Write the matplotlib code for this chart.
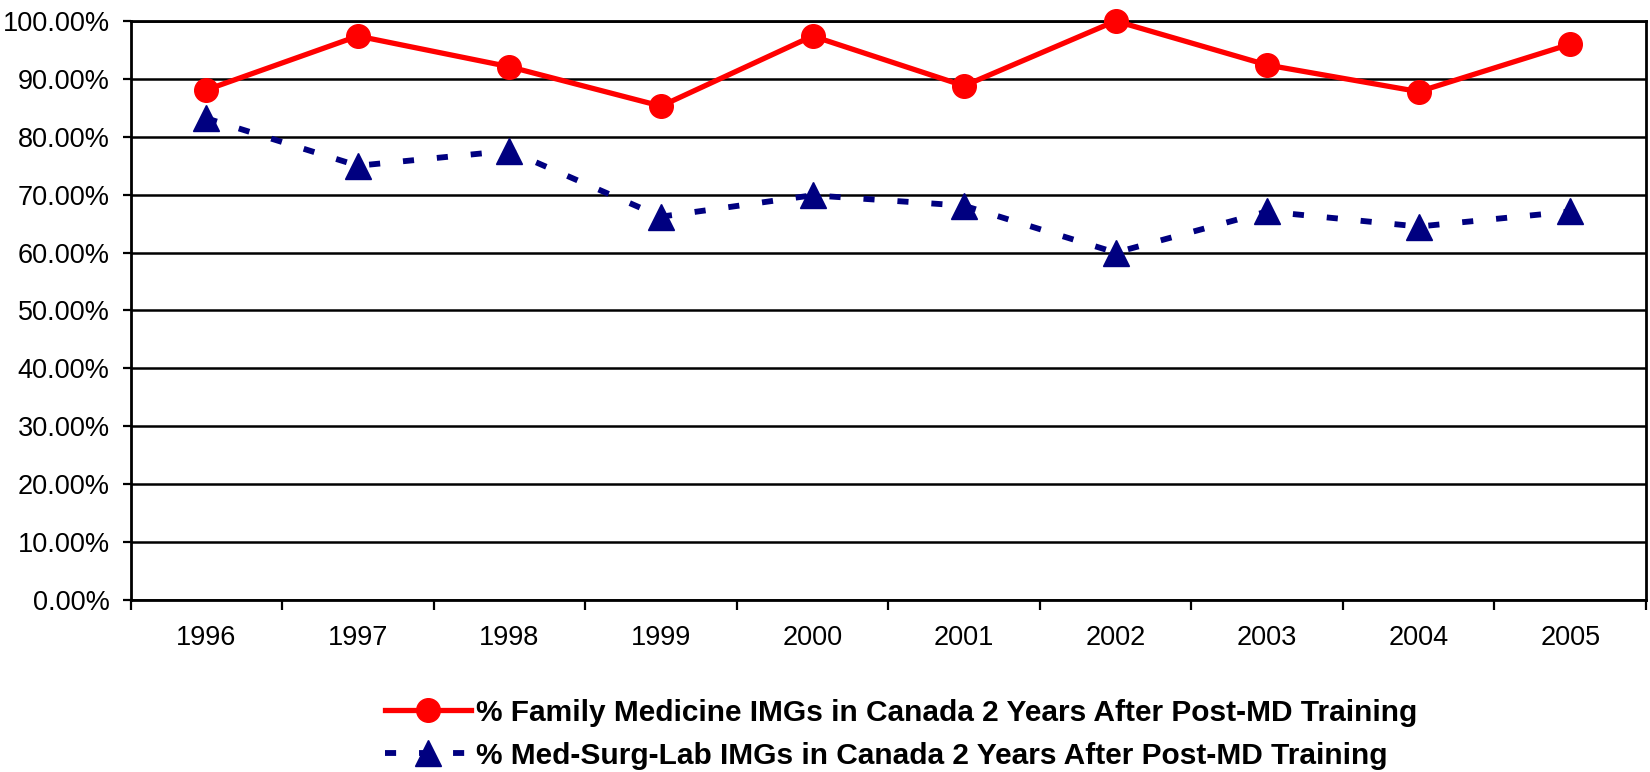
import matplotlib
matplotlib.use("Agg")
import matplotlib.pyplot as plt
from matplotlib.ticker import FixedLocator, PercentFormatter

plt.rcParams['font.family'] = ['Liberation Sans', 'DejaVu Sans']
plt.rcParams['lines.scale_dashes'] = False

# Share of IMGs still in Canada two years after post-MD training
years = ['1996', '1997', '1998', '1999', '2000', '2001', '2002', '2003', '2004', '2005']
family_med = [88.1, 97.4, 92.1, 85.3, 97.4, 88.8, 100.0, 92.4, 87.8, 96.0]
med_surg_lab = [83.2, 75.0, 77.6, 66.2, 69.9, 68.1, 60.0, 67.1, 64.5, 67.1]

fam_label = '% Family Medicine IMGs in Canada 2 Years After Post-MD Training'
msl_label = '% Med-Surg-Lab IMGs in Canada 2 Years After Post-MD Training'

fig = plt.figure(figsize=(16.5, 7.72), dpi=100)
ax = fig.add_axes([0.0791, 0.2228, 0.9185, 0.75])

x = [i + 0.5 for i in range(len(years))]

ax.plot(x, med_surg_lab, color='#000080', lw=4.2, dashes=(8, 16.5),
        marker='^', markersize=19, clip_on=False, zorder=3, label=msl_label)
ax.plot(x, family_med, color='#ff0000', lw=3.8,
        marker='o', markersize=17, clip_on=False, zorder=4, label=fam_label)

ax.set_xlim(0, len(years))
ax.set_ylim(0, 100)

# horizontal gridlines every 10%
ax.yaxis.set_major_locator(FixedLocator(range(0, 101, 10)))
ax.yaxis.set_major_formatter(PercentFormatter(decimals=2))
ax.grid(axis='y', color='black', lw=1.8)
ax.set_axisbelow(True)

# category boundaries as ticks, labels centred between them
ax.xaxis.set_major_locator(FixedLocator(range(len(years) + 1)))
ax.xaxis.set_minor_locator(FixedLocator(x))
ax.set_xticklabels([], minor=False)
ax.set_xticklabels(years, minor=True)
ax.tick_params(axis='x', which='major', length=7, width=1.6, direction='out')
ax.tick_params(axis='x', which='minor', length=0, pad=18, labelsize=19.5)
ax.tick_params(axis='y', length=6, width=1.6, direction='out', pad=9, labelsize=19.5)

for s in ax.spines.values():
    s.set_linewidth(2)
    s.set_color('black')

handles, labels = ax.get_legend_handles_labels()
leg = fig.legend(handles[::-1], labels[::-1], loc='center', bbox_to_anchor=(0.546, 0.049),
                 frameon=False, handlelength=2.9, handletextpad=0.15, labelspacing=0.5,
                 prop={'weight': 'bold', 'size': 21.5})

fig.savefig('out.png', dpi=100)
